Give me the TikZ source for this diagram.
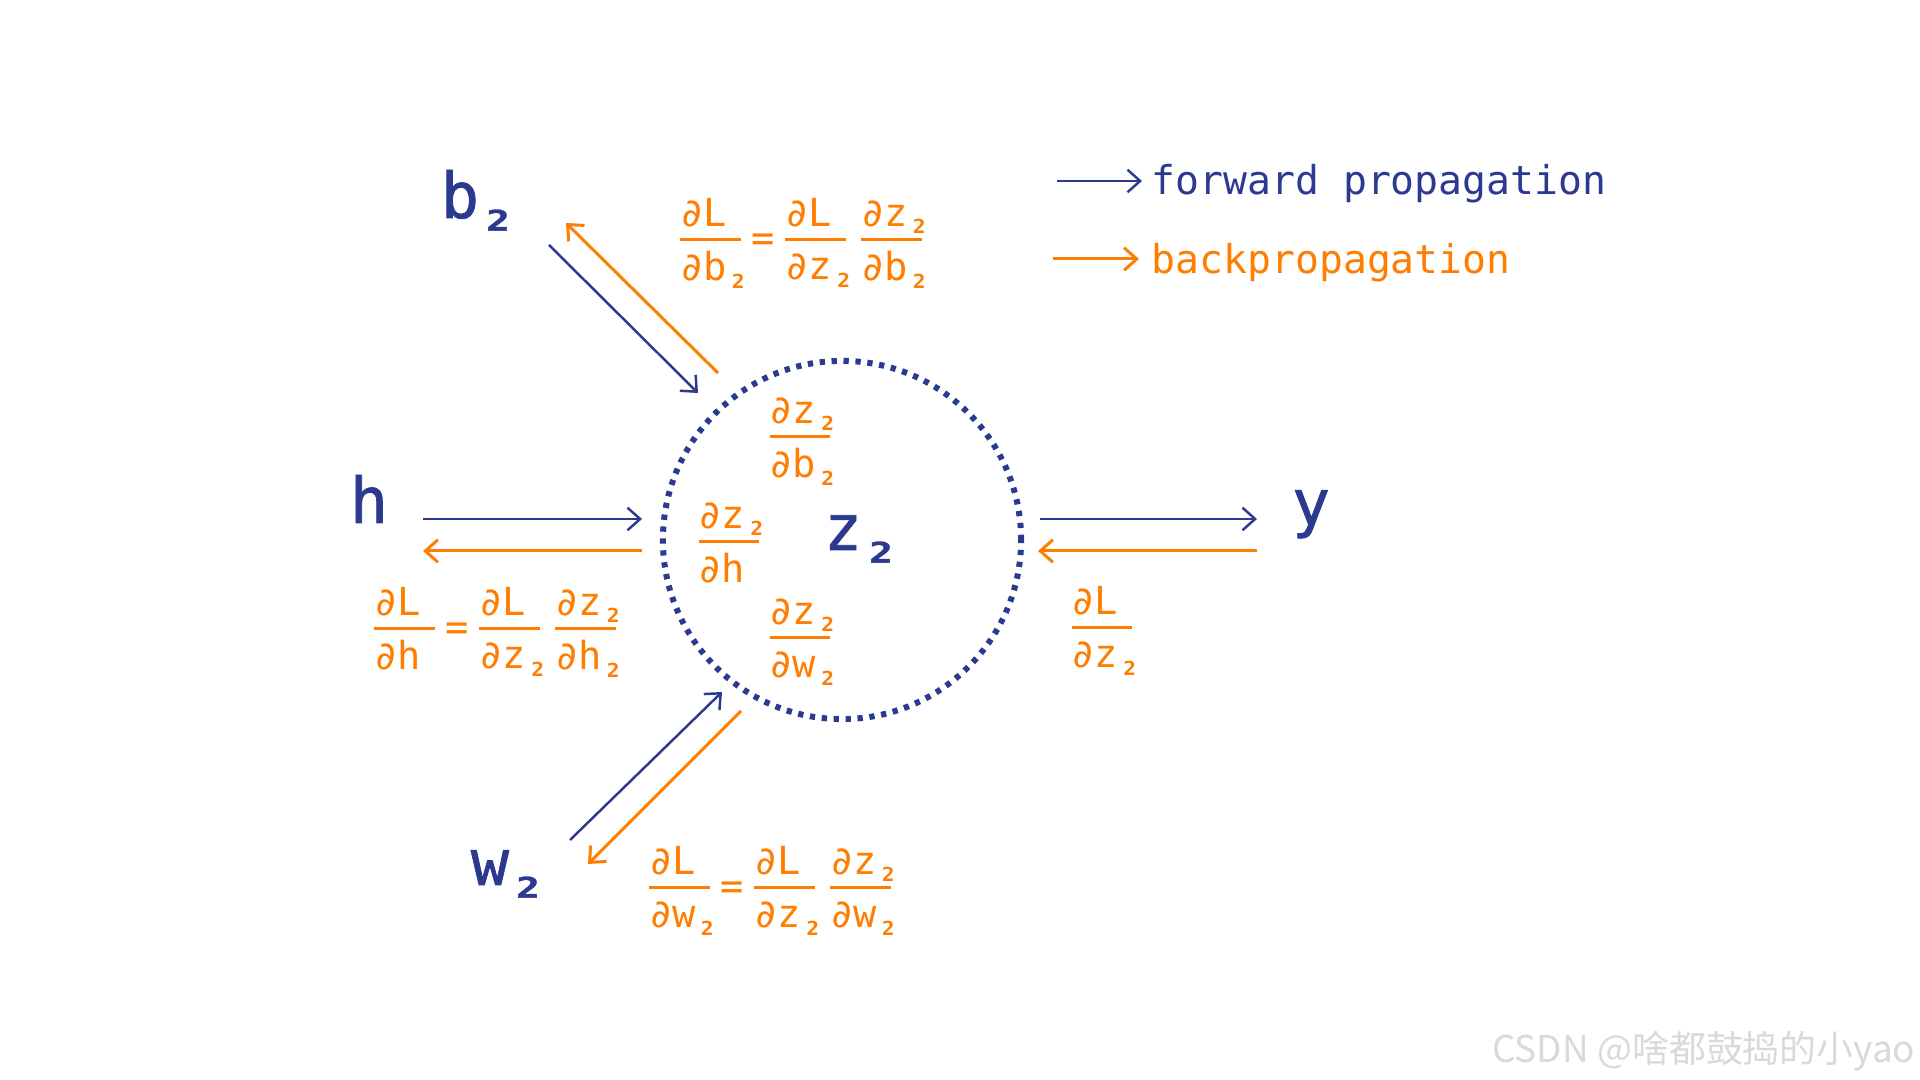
\documentclass[tikz,border=0pt]{standalone}
\usepackage{amsmath}
\usepackage{graphicx}
\usepackage{fontspec}
\setmainfont{DejaVu Sans Mono}
\newfontfamily\labfont[FakeBold=1.2]{DejaVu Sans Mono}
\newfontfamily\cjk{Noto Sans CJK SC}
\usetikzlibrary{arrows.meta}
\definecolor{fwdblue}{RGB}{43,57,144}
\definecolor{bwdorange}{RGB}{255,125,0}
% small lowered 2 in its own cell
\newcommand{\two}{\hbox to 0.602em{\hss\smash{\raisebox{-0.2em}{\scalebox{0.55}[0.5]{\bfseries 2}}}\hss}}
\newcommand{\ltwo}{\hbox to 0.602em{\hss\raisebox{-0.2em}{\scalebox{0.62}[0.45]{\bfseries 2}}\hss}}
% fraction with left aligned parts, fixed bar
\newcommand{\pfrac}[2]{\genfrac{}{}{0.95pt}{0}{\hbox to 17.3pt{\raisebox{-0.9pt}{#1}\hss}}{\hbox to 17.3pt{\raisebox{-1.2pt}{#2}\hss}}}
\newcommand{\peq}{\,\raisebox{-0.6pt}{=}\,}

\begin{document}
\begin{tikzpicture}[x=0.01cm,y=-0.01cm,
  fwd/.style={fwdblue,line width=0.7pt,-{Straight Barb[length=3.6pt,width=6.4pt]}},
  bwd/.style={bwdorange,line width=0.85pt,-{Straight Barb[length=3.6pt,width=6.4pt]}},
  lab/.style={fwdblue,font=\labfont\fontsize{18}{20}\selectfont,anchor=base,inner sep=0pt},
  eq/.style={bwdorange,font=\fontsize{11}{13}\selectfont,anchor=base,inner sep=0pt}]
  \useasboundingbox (0,0) rectangle (1920,1080);

  % the neuron
  \node[circle,draw=fwdblue,line width=1.7pt,dash pattern=on 1.5pt off 1.895pt,minimum size=3.58cm,inner sep=0pt] (cell) at (842,540) {};
  \node[lab] (z2) at (862,550) {z\ltwo};
  \node[eq] (dzb) at (800,446) {$\pfrac{∂z\two}{∂b\two}$};
  \node[eq] (dzh) at (729,551) {$\pfrac{∂z\two}{∂h}$};
  \node[eq] (dzw) at (800,647) {$\pfrac{∂z\two}{∂w\two}$};

  % inputs and output
  \node[lab] (b2) at (479,218) {b\ltwo};
  \node[lab] (h) at (369,523) {h};
  \node[lab] (w2) at (509,885) {w\ltwo};
  \node[lab] (y) at (1311,525) {y};

  \coordinate (b2a) at (549,245); \coordinate (b2b) at (698,393);
  \coordinate (b2c) at (718,373); \coordinate (b2d) at (566,223);
  \draw[fwd] (b2a) -- (b2b); \draw[bwd] (b2c) -- (b2d);
  \coordinate (ha) at (423,519); \coordinate (hb) at (642,519);
  \coordinate (hc) at (642,551); \coordinate (hd) at (423,551);
  \draw[fwd] (ha) -- (hb); \draw[bwd] (hc) -- (hd);
  \coordinate (w2a) at (570,840); \coordinate (w2b) at (722,692);
  \coordinate (w2c) at (741,711); \coordinate (w2d) at (588,864);
  \draw[fwd] (w2a) -- (w2b); \draw[bwd] (w2c) -- (w2d);
  \coordinate (ya) at (1040,519); \coordinate (yb) at (1257,519);
  \coordinate (yc) at (1257,551); \coordinate (yd) at (1038,551);
  \draw[fwd] (ya) -- (yb); \draw[bwd] (yc) -- (yd);

  % chain rule
  \node[eq] (eqb) at (801,249) {$\pfrac{∂L}{∂b\two}\peq\pfrac{∂L}{∂z\two}\,\pfrac{∂z\two}{∂b\two}$};
  \node[eq] (eqh) at (495,638) {$\pfrac{∂L}{∂h}\peq\pfrac{∂L}{∂z\two}\,\pfrac{∂z\two}{∂h\two}$};
  \node[eq] (eqw) at (770,897) {$\pfrac{∂L}{∂w\two}\peq\pfrac{∂L}{∂z\two}\,\pfrac{∂z\two}{∂w\two}$};
  \node[eq] (eqy) at (1102,637) {$\pfrac{∂L}{∂z\two}$};

  % legend
  \node[anchor=base west,fwdblue,font=\fontsize{11.3}{13}\selectfont,inner sep=0pt] (fwdtxt) at (1151,195) {forward propagation};
  \node[anchor=base west,bwdorange,font=\fontsize{11.3}{13}\selectfont,inner sep=0pt] (bwdtxt) at (1151,274) {backpropagation};
  \coordinate (fa) at (1057,181); \coordinate (fb) at (1142,181);
  \coordinate (ba) at (1053,259); \coordinate (bb) at (1139,259);
  \draw[fwd] (fa) -- (fb); \draw[bwd] (ba) -- (bb);

  \node[anchor=base east,text=gray!30,font=\cjk\fontsize{10.5}{12}\selectfont,inner sep=0pt] (mark) at (1916,1063) {CSDN @啥都鼓捣的小yao};
\end{tikzpicture}
\end{document}
